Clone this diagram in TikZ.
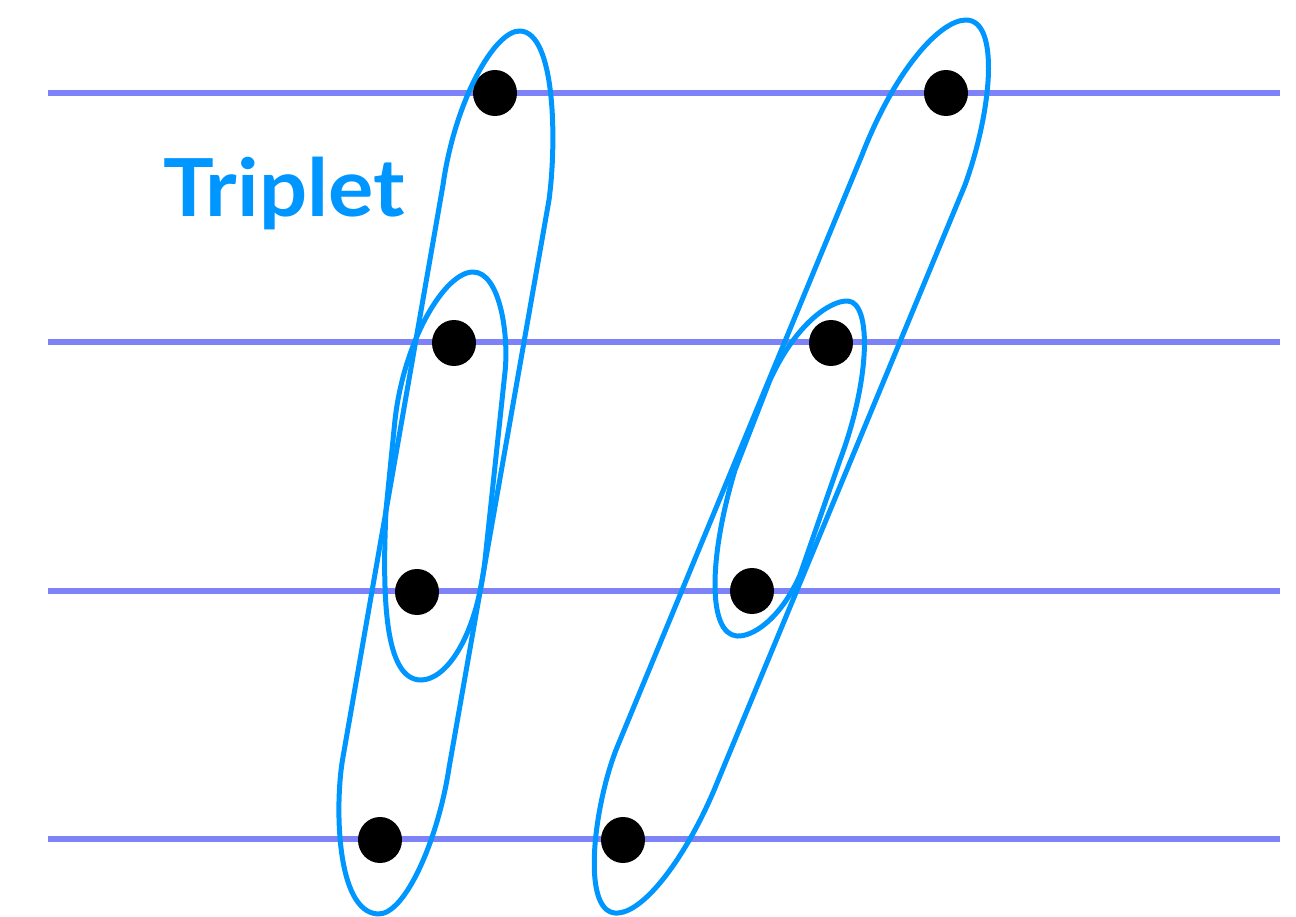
\documentclass[tikz,border=0pt]{standalone}
\usepackage{fontspec}
\newfontfamily\labfont[FakeStretch=1.06]{Lato}
\usetikzlibrary{shapes.geometric}
\definecolor{staff}{RGB}{125,130,247}
\definecolor{loop}{RGB}{0,150,255}
\begin{document}
\begin{tikzpicture}[x=1pt,y=-1pt,
  staffline/.style={draw=staff,line width=5.2pt},
  loopline/.style={draw=loop,line width=5pt,line join=round},
  dot/.style={ellipse,fill=black,minimum width=44pt,minimum height=46pt,inner sep=0pt}]
\useasboundingbox (0,0) rectangle (1296,916);
% staff lines
\foreach \y/\n in {93/1,342/2,591/3,839/4}{
  \coordinate (l\n) at (48,\y);
  \coordinate (r\n) at (1280,\y);
  \draw[staffline] (l\n) -- (r\n);
}
% dots
\node[dot] (a1) at (495,93) {};
\node[dot] (a2) at (454,343) {};
\node[dot] (a3) at (417,592) {};
\node[dot] (a4) at (380,840) {};
\node[dot] (b1) at (946,93) {};
\node[dot] (b2) at (831,343) {};
\node[dot] (b3) at (752,591) {};
\node[dot] (b4) at (623,840) {};
% left big loop
\draw[loopline] (443,185) .. controls (455,100) and (495,30) .. (520,31)
  .. controls (555,32) and (557,140) .. (549,200)
  -- (449,768) .. controls (438,840) and (405,915) .. (378,914)
  .. controls (335,912) and (335,800) .. (343,757) -- cycle;
% left small loop
\draw[loopline] (473,272) .. controls (500,272) and (509,335) .. (505,372)
  -- (485,560) .. controls (476,640) and (445,680) .. (421,680)
  .. controls (385,680) and (382,600) .. (386,510)
  -- (395,420) .. controls (404,340) and (445,272) .. (473,272) -- cycle;
% right big loop
\draw[loopline] (862,155) .. controls (895,70) and (940,20) .. (966,20)
  .. controls (1000,20) and (992,110) .. (965,185)
  -- (717,783) .. controls (690,850) and (645,915) .. (615,913)
  .. controls (580,910) and (595,800) .. (618,745) -- cycle;
% right small loop
\draw[loopline] (848,301) .. controls (872,303) and (870,380) .. (840,460)
  -- (800,575) .. controls (780,620) and (752,637) .. (737,636)
  .. controls (708,634) and (708,560) .. (735,470)
  -- (770,380) .. controls (795,325) and (830,300) .. (848,301) -- cycle;
% label
\node[anchor=base,text=loop,font=\labfont\bfseries\fontsize{80}{84}\selectfont,inner sep=0pt] (lab) at (284,216) {Triplet};
\end{tikzpicture}
\end{document}
